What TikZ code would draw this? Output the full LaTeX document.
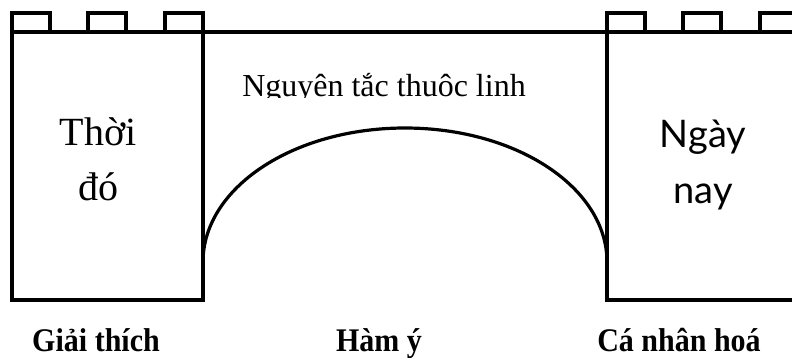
\documentclass[tikz,border=0pt]{standalone}
\usepackage{fontspec}
\setmainfont{Liberation Serif}
\newfontfamily\humsans{Lato}
\usetikzlibrary{positioning}

\begin{document}
\begin{tikzpicture}[x=1pt,y=-1pt,line width=3.2pt,line cap=rect,
  lbl/.style={font=\bfseries\fontsize{30}{36}\selectfont,anchor=base,yscale=1.1,transform shape},
  era/.style={align=center,anchor=base}]
\useasboundingbox (0,0) rectangle (792,357);
\begin{scope}
\clip (0,0) rectangle (792,357);
% walls
\draw (203,300) -- (12,300) -- (12,32) -- (800,32);
\draw (203,32) -- (203,300);
\draw (607,32) -- (607,300) -- (800,300);
% battlements
\foreach \x in {12,88,165,607,683,760}
  \draw (\x,32) rectangle ++(38,-19);
% arch
\draw[line cap=butt] (203,262) .. controls (203,188) and (293,128) .. (405,128)
  .. controls (517,128) and (607,188) .. (607,262);
\end{scope}
\begin{scope}
\clip (200,40) rectangle (600,97);
\node (rule) [anchor=base,font=\fontsize{32}{38}\selectfont] at (384,96) {Nguyên tắc thuộc linh};
\end{scope}
\node (past) [era,font=\fontsize{40}{55}\selectfont] at (98,200) {Thời\\đó};
\node (now)  [era,font=\humsans\fontsize{38}{56}\selectfont] at (703,203) {Ngày\\nay};
\node (expl) [lbl] at (96,351) {Giải thích};
\node (impl) [lbl] at (379,351) {Hàm ý};
\node (pers) [lbl] at (679,351) {Cá nhân hoá};
\end{tikzpicture}
\end{document}
